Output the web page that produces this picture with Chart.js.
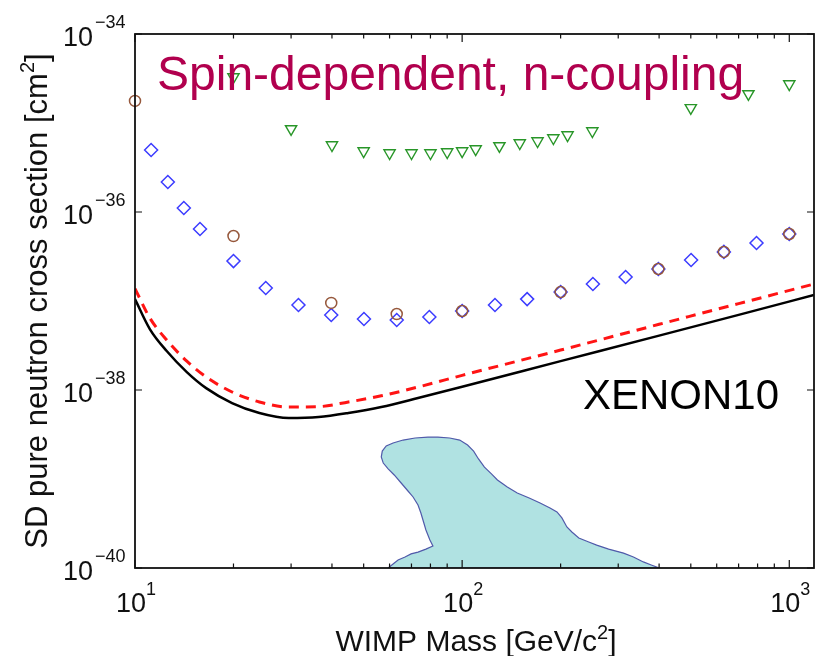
<!DOCTYPE html>
<html>
<head>
<meta charset="utf-8">
<script src="https://cdn.jsdelivr.net/npm/chart.js"></script>
<style>
  html, body { margin: 0; padding: 0; background: #fff; }
  #wrap { width: 822px; height: 656px; }
</style>
</head>
<body>
<div id="wrap"><canvas id="c" width="822" height="656"></canvas></div>
<script>
// WIMP mass grid [GeV/c^2] and SD pure-neutron cross sections [cm^2]

// XENON10 90% CL limit (solid)
const massLimit  = [10, 11.1, 12.5, 14.4, 16.5, 19.8, 24, 29.5, 36.4, 44.9, 56.6, 73.3, 100, 200, 400, 700, 1190];
const sigmaLimit = [1.05e-37, 4.84e-38, 2.74e-38, 1.59e-38, 1.05e-38, 7.14e-39, 5.52e-39, 4.84e-39, 4.97e-39,
                    5.52e-39, 6.44e-39, 8.13e-39, 1.09e-38, 2.11e-38, 4.08e-38, 6.98e-38, 1.17e-37];

// alternative nuclear model (dashed)
const massAlt  = [10, 11.1, 12.5, 14.4, 16.5, 19.8, 24, 29.5, 36.4, 44.9, 56.6, 73.3, 100, 200, 400, 700, 1190];
const sigmaAlt = [1.38e-37, 6.44e-38, 3.64e-38, 2.11e-38, 1.40e-38, 9.5e-39, 7.34e-39, 6.44e-39, 6.5e-39,
                  7.33e-39, 8.6e-39, 1.08e-38, 1.46e-38, 2.81e-38, 5.47e-38, 9.35e-38, 1.55e-37];

// diamonds
const massDiamond  = [11.2, 12.6, 14.1, 15.8, 20, 25.1, 31.6, 39.8, 50.1, 63.1, 79.4, 100, 126, 158, 200, 251, 316, 398, 501, 631, 794, 1000];
const sigmaDiamond = [4.98e-36, 2.17e-36, 1.11e-36, 6.44e-37, 2.81e-37, 1.40e-37, 9.01e-38, 6.96e-38, 6.28e-38, 6.12e-38,
                      6.61e-38, 7.72e-38, 9.01e-38, 1.05e-37, 1.26e-37, 1.55e-37, 1.86e-37, 2.29e-37, 2.89e-37, 3.56e-37,
                      4.49e-37, 5.66e-37];

// circles
const massCircle  = [10, 20, 39.8, 63.1, 100, 200, 398, 631, 1000];
const sigmaCircle = [1.77e-35, 5.37e-37, 9.51e-38, 7.14e-38, 7.72e-38, 1.26e-37, 2.29e-37, 3.56e-37, 5.66e-37];

// triangles
const massTriangle  = [20, 30, 40, 50, 60, 70, 80, 90, 100, 110, 130, 150, 170, 190, 210, 250, 500, 750, 1000];
const sigmaTriangle = [3.29e-35, 8.57e-36, 5.66e-36, 4.84e-36, 4.60e-36, 4.60e-36, 4.60e-36, 4.72e-36, 4.84e-36,
                       5.10e-36, 5.52e-36, 5.96e-36, 6.28e-36, 6.78e-36, 7.32e-36, 8.13e-36, 1.48e-35, 2.12e-35, 2.74e-35];

// theory-favoured region (closed outline)
const regionMass  = [59.4, 61.5, 63.7, 66.9, 69.8, 73.3, 77.5, 81.4, 79.7, 77.5, 75.9, 74.8, 73.3, 70.8, 68.3, 65.1,
                     62.0, 59.4, 57.4, 56.6, 57.0, 58.6, 61.5, 66.0, 71.8, 78.6, 84.3, 91.6, 98.3, 103.9, 108.4, 112.2,
                     117.0, 122.9, 128.2, 137.4, 147.4, 160.3, 173.1, 185.6, 194.9, 201.8, 209.0, 216.5, 227.3, 243.8,
                     257.8, 280.4, 311.4, 333.9, 358.0, 378.5, 400.5, 59.4];
const regionSigma = [1e-40, 1.11e-40, 1.23e-40, 1.33e-40, 1.44e-40, 1.51e-40, 1.63e-40, 1.77e-40, 2.06e-40, 2.67e-40,
                     3.46e-40, 4.15e-40, 5.10e-40, 6.28e-40, 7.33e-40, 9.02e-40, 1.11e-39, 1.30e-39, 1.51e-39, 1.77e-39,
                     2.06e-39, 2.35e-39, 2.54e-39, 2.74e-39, 2.89e-39, 2.96e-39, 2.96e-39, 2.89e-39, 2.74e-39, 2.41e-39,
                     2.06e-39, 1.68e-39, 1.36e-39, 1.14e-39, 9.75e-40, 8.13e-40, 6.97e-40, 6.12e-40, 5.38e-40, 4.72e-40,
                     4.26e-40, 3.65e-40, 2.89e-40, 2.54e-40, 2.17e-40, 1.96e-40, 1.81e-40, 1.63e-40, 1.47e-40, 1.33e-40,
                     1.17e-40, 1.08e-40, 1e-40, 1e-40];

// axes
const xRange = [10, 1190];
const yRange = [1e-40, 1e-34];
const xMajorTicks = [10, 100, 1000];
const xMajorExp   = ['1', '2', '3'];
const xMinorTicks = [20, 30, 40, 50, 60, 70, 80, 90, 200, 300, 400, 500, 600, 700, 800, 900];
const yMajorTicks = [1e-40, 1e-38, 1e-36, 1e-34];
const yMajorExp   = ['\u221240', '\u221238', '\u221236', '\u221234'];
const tickBase = '10';

const plotTitle = 'Spin-dependent, n-coupling';
const limitLabel = 'XENON10';

const pts = (xs, ys) => xs.map((v, i) => ({x: v, y: ys[i]}));

const FONT = "'Liberation Sans', Arial, Helvetica, sans-serif";

// draw a run of text pieces (some raised) starting/centred/ending at x
function drawRich(ctx, parts, x, y, align) {
  let total = 0;
  for (const p of parts) { ctx.font = p.font; total += ctx.measureText(p.text).width; }
  let cx = align === 'center' ? x - total / 2 : align === 'right' ? x - total : x;
  ctx.textAlign = 'left';
  ctx.textBaseline = 'alphabetic';
  for (const p of parts) {
    ctx.font = p.font;
    ctx.fillText(p.text, cx, y + (p.dy || 0));
    cx += ctx.measureText(p.text).width;
  }
}

const framePlugin = {
  id: 'frame',
  afterDatasetsDraw(chart) {
    const {ctx, chartArea: a, scales} = chart;
    const xs = scales.x, ys = scales.y;
    ctx.save();

    // in-plot captions
    ctx.fillStyle = '#b1004e';
    ctx.font = '48px ' + FONT;
    ctx.textAlign = 'left';
    ctx.textBaseline = 'alphabetic';
    ctx.fillText(plotTitle, 157, 90);
    ctx.fillStyle = '#000';
    ctx.font = '42px ' + FONT;
    ctx.fillText(limitLabel, 583, 409);

    // box
    ctx.strokeStyle = '#111';
    ctx.lineWidth = 1.8;
    ctx.strokeRect(a.left, a.top, a.right - a.left, a.bottom - a.top);

    // ticks pointing inwards
    ctx.lineWidth = 1.2;
    ctx.beginPath();
    const xt = (v, len) => {
      const px = xs.getPixelForValue(v);
      ctx.moveTo(px, a.bottom); ctx.lineTo(px, a.bottom - len);
      ctx.moveTo(px, a.top); ctx.lineTo(px, a.top + len);
    };
    xMajorTicks.forEach(v => xt(v, 8));
    xMinorTicks.forEach(v => xt(v, 4.5));
    yMajorTicks.forEach(v => {
      const py = ys.getPixelForValue(v);
      ctx.moveTo(a.left, py); ctx.lineTo(a.left + 7, py);
      ctx.moveTo(a.right, py); ctx.lineTo(a.right - 7, py);
    });
    ctx.stroke();

    // tick labels
    ctx.fillStyle = '#111';
    const baseFont = '27px ' + FONT;
    const expFont = '18px ' + FONT;
    xMajorTicks.forEach((v, i) => {
      const px = xs.getPixelForValue(v);
      drawRich(ctx, [
        {text: tickBase, font: baseFont},
        {text: xMajorExp[i], font: expFont, dy: -17}
      ], px + 1, a.bottom + 44, 'center');
    });
    yMajorTicks.forEach((v, i) => {
      const py = ys.getPixelForValue(v);
      ctx.font = baseFont;
      ctx.textAlign = 'right';
      ctx.fillText(tickBase, 93, py + 12);
      ctx.font = expFont;
      ctx.textAlign = 'left';
      ctx.fillText(yMajorExp[i], 95, py - 6);
    });

    // axis titles
    const sFont = '20px ' + FONT;
    drawRich(ctx, [
      {text: 'WIMP Mass [GeV/c', font: '30px ' + FONT},
      {text: '2', font: sFont, dy: -12},
      {text: ']', font: '30px ' + FONT}
    ], 476, 651, 'center');

    ctx.translate(47, 301);
    ctx.rotate(-Math.PI / 2);
    drawRich(ctx, [
      {text: 'SD pure neutron cross section [cm', font: '31px ' + FONT},
      {text: '2', font: sFont, dy: -13},
      {text: ']', font: '31px ' + FONT}
    ], 0, 0, 'center');

    ctx.restore();
  }
};

const marker = (color, style, r, extra) => Object.assign({
  showLine: false,
  pointStyle: style,
  pointRadius: r,
  pointHoverRadius: r,
  pointBorderColor: color,
  pointBackgroundColor: 'rgba(0,0,0,0)',
  pointBorderWidth: 1.5,
  borderColor: color,
  backgroundColor: 'rgba(0,0,0,0)',
  clip: false
}, extra || {});

new Chart(document.getElementById('c'), {
  type: 'scatter',
  data: {
    datasets: [
      Object.assign({ data: pts(massCircle, sigmaCircle), order: 0 }, marker('rgb(150,88,60)', 'circle', 5.5)),
      Object.assign({ data: pts(massDiamond, sigmaDiamond), order: 1 }, marker('rgb(60,60,255)', 'rectRot', 6.5)),
      Object.assign({ data: pts(massTriangle, sigmaTriangle), order: 2 }, marker('rgb(40,150,40)', 'triangle', 6.5, {pointRotation: 180, pointBorderWidth: 1.4})),
      {
        data: pts(massAlt, sigmaAlt), order: 3,
        showLine: true, pointRadius: 0, borderColor: 'rgb(255,20,20)', borderWidth: 3,
        borderDash: [10, 7], cubicInterpolationMode: 'monotone', fill: false
      },
      {
        data: pts(massLimit, sigmaLimit), order: 4,
        showLine: true, pointRadius: 0, borderColor: '#000', borderWidth: 2.5,
        cubicInterpolationMode: 'monotone', fill: false
      },
      {
        data: pts(regionMass, regionSigma), order: 5,
        showLine: true, pointRadius: 0, tension: 0,
        borderColor: 'rgb(80,90,170)', borderWidth: 1.2,
        backgroundColor: 'rgb(176,226,226)', fill: 'shape'
      }
    ]
  },
  options: {
    responsive: false,
    animation: false,
    events: [],
    layout: { padding: { left: 135, right: 3, top: 34, bottom: 88 } },
    plugins: { legend: { display: false }, tooltip: { enabled: false } },
    scales: {
      x: { type: 'logarithmic', min: xRange[0], max: xRange[1], display: false },
      y: { type: 'logarithmic', min: yRange[0], max: yRange[1], display: false }
    }
  },
  plugins: [framePlugin]
});
</script>
</body>
</html>
